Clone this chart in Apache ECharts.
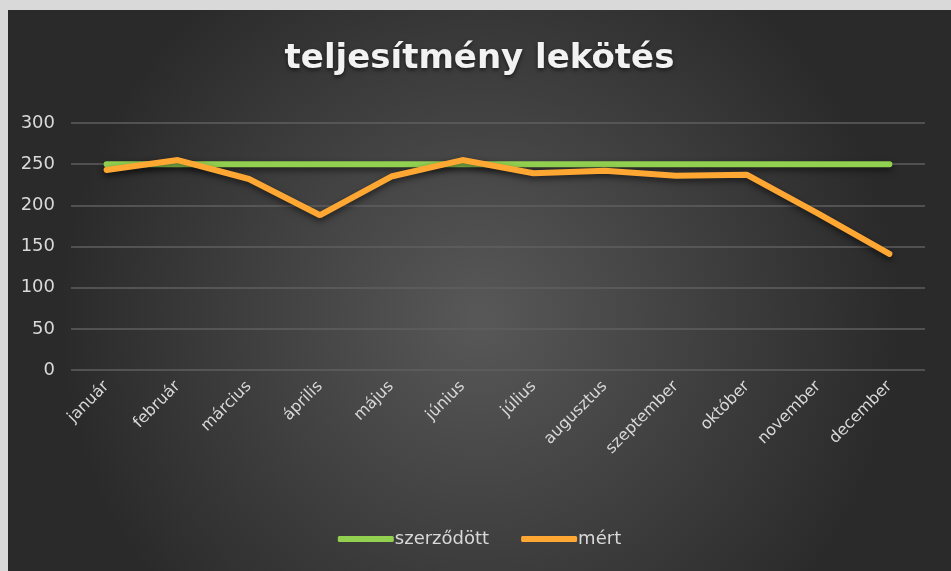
<!DOCTYPE html>
<html>
<head>
<meta charset="utf-8">
<script src="https://cdn.jsdelivr.net/npm/echarts@6/dist/echarts.min.js"></script>
<style>
  html, body { margin: 0; padding: 0; background: #d9d9d9; }
  #chart { position: absolute; left: 8px; top: 10px; width: 943px; height: 561px; }
</style>
</head>
<body>
<div id="chart"></div>
<script>
const months = ['január', 'február', 'március', 'április', 'május', 'június',
  'július', 'augusztus', 'szeptember', 'október', 'november', 'december'];
const contracted = [250, 250, 250, 250, 250, 250, 250, 250, 250, 250, 250, 250];
const measured = [243, 255, 232, 188, 235, 255, 239, 242, 236, 237, 190, 141];

const font = '"DejaVu Sans", sans-serif';
const shadow = {shadowColor: 'rgba(0,0,0,0.55)', shadowBlur: 6, shadowOffsetY: 3};

const chart = echarts.init(document.getElementById('chart'));
chart.setOption({
  backgroundColor: {
    type: 'radial', x: 0.5, y: 0.55, r: 0.75,
    colorStops: [{offset: 0, color: '#585858'}, {offset: 1, color: '#2a2a2a'}]
  },
  textStyle: {fontFamily: font},
  title: {
    text: 'teljesítmény lekötés',
    left: 'center',
    top: 27,
    textStyle: {
      color: '#f2f2f2', fontSize: 34, fontWeight: 'bold', fontFamily: font,
      textShadowColor: 'rgba(0,0,0,0.6)', textShadowBlur: 4, textShadowOffsetY: 2
    }
  },
  legend: {
    bottom: 18,
    left: 'center',
    itemWidth: 56,
    itemHeight: 6,
    itemGap: 32,
    icon: 'roundRect',
    textStyle: {color: '#d9d9d9', fontSize: 18, padding: [0, 0, 0, -4]},
    data: ['szerződött', 'mért']
  },
  grid: {left: 63, right: 26, top: 113, bottom: 201},
  xAxis: {
    type: 'category',
    data: months,
    axisLine: {show: false},
    axisTick: {show: false},
    axisLabel: {color: '#d9d9d9', fontSize: 16, rotate: 45, margin: 14}
  },
  yAxis: {
    type: 'value',
    min: 0,
    max: 300,
    interval: 50,
    axisLine: {show: false},
    axisTick: {show: false},
    axisLabel: {color: '#d9d9d9', fontSize: 18, margin: 16},
    splitLine: {lineStyle: {color: '#5f5f5f', width: 1.5}}
  },
  series: [
    {
      name: 'szerződött',
      type: 'line',
      data: contracted,
      symbol: 'none',
      color: '#92d050',
      lineStyle: Object.assign({width: 6, color: '#92d050', cap: 'round'}, shadow)
    },
    {
      name: 'mért',
      type: 'line',
      data: measured,
      symbol: 'none',
      color: '#ffa733',
      lineStyle: Object.assign({width: 6, color: '#ffa733', cap: 'round'}, shadow)
    }
  ]
});
</script>
</body>
</html>
